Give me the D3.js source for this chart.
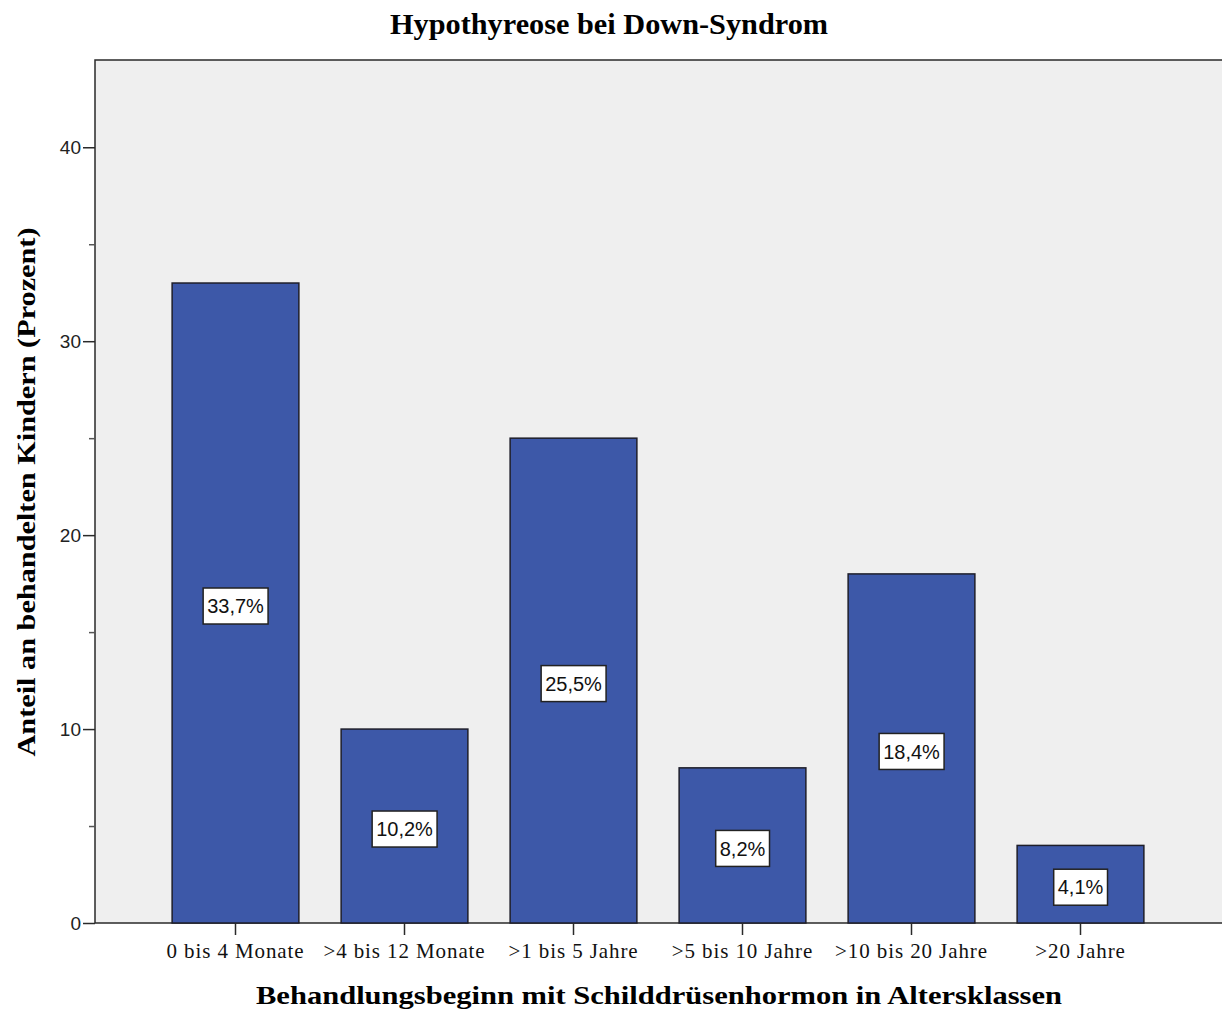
<!DOCTYPE html>
<html><head><meta charset="utf-8">
<script src="https://cdn.jsdelivr.net/npm/d3@7"></script>
<style>body{margin:0;background:#fff}svg{display:block}</style>
</head><body>
<svg id="chart" width="1222" height="1009"></svg>
<script>
const categories = ["0 bis 4 Monate", ">4 bis 12 Monate", ">1 bis 5 Jahre", ">5 bis 10 Jahre", ">10 bis 20 Jahre", ">20 Jahre"];
const barValues = [33, 10, 25, 8, 18, 4];
const percentLabels = ["33,7%", "10,2%", "25,5%", "8,2%", "18,4%", "4,1%"];
const yTicks = [0, 10, 20, 30, 40];
const yMinorTicks = [5, 15, 25, 35];
const title = "Hypothyreose bei Down-Syndrom";
const xTitle = "Behandlungsbeginn mit Schilddrüsenhormon in Altersklassen";
const yTitle = "Anteil an behandelten Kindern (Prozent)";

const svg = d3.select("#chart");
const plot = {left: 95, top: 60, right: 1223, bottom: 923};
const x = d3.scaleBand().domain(categories).range([151, 1165]).paddingInner(0.25).paddingOuter(0.125);
const y = d3.scaleLinear().domain([0, 44.5]).range([plot.bottom, plot.top]);

svg.append("rect").attr("x", plot.left).attr("y", plot.top)
  .attr("width", plot.right - plot.left).attr("height", plot.bottom - plot.top)
  .attr("fill", "#efefef").attr("stroke", "#2a2a2a").attr("stroke-width", 1.5);

// bars
svg.append("g").selectAll("rect").data(categories).join("rect")
  .attr("x", d => x(d)).attr("width", x.bandwidth())
  .attr("y", (d, i) => y(barValues[i])).attr("height", (d, i) => y(0) - y(barValues[i]))
  .attr("fill", "#3d58a8").attr("stroke", "#1e1e2a").attr("stroke-width", 1.5);

// labels
const lab = svg.append("g").selectAll("g").data(categories).join("g")
  .attr("transform", (d, i) => `translate(${x(d) + x.bandwidth() / 2},${(y(barValues[i]) + y(0)) / 2 + 3})`);
lab.each(function(d, i) {
  const g = d3.select(this);
  const t = g.append("text").text(percentLabels[i])
    .attr("text-anchor", "middle").attr("dy", "0.36em")
    .attr("font-family", "Liberation Sans, Arial, sans-serif").attr("font-size", 20).attr("fill", "#111");
  const bb = t.node().getBBox();
  g.insert("rect", "text").attr("x", bb.x - 4).attr("y", -18).attr("width", bb.width + 8).attr("height", 36)
    .attr("fill", "#fff").attr("stroke", "#222").attr("stroke-width", 1.5);
});

// y axis
const yAxis = d3.axisLeft(y).tickValues(yTicks).tickSize(12).tickPadding(2).tickFormat(d3.format("d"));
const gy = svg.append("g").attr("transform", `translate(${plot.left},0)`).call(yAxis);
gy.select(".domain").remove();
gy.selectAll("line").attr("stroke", "#2a2a2a").attr("stroke-width", 1.5);
gy.selectAll("text").attr("font-family", "Liberation Sans, Arial, sans-serif").attr("font-size", 19).attr("fill", "#222");
const gyMinor = svg.append("g").attr("transform", `translate(${plot.left},0)`)
  .call(d3.axisLeft(y).tickValues(yMinorTicks).tickSize(6).tickFormat(""));
gyMinor.select(".domain").remove();
gyMinor.selectAll("line").attr("stroke", "#555").attr("stroke-width", 1.5);

// x axis
const xAxis = d3.axisBottom(x).tickSize(12).tickPadding(8);
const gx = svg.append("g").attr("transform", `translate(0,${plot.bottom})`).call(xAxis);
gx.select(".domain").remove();
gx.selectAll("line").attr("stroke", "#2a2a2a").attr("stroke-width", 1.5);
gx.selectAll("text").attr("font-family", "Liberation Serif, Times New Roman, serif").attr("font-size", 21)
  .attr("letter-spacing", "0.9px").attr("fill", "#111");

// titles
svg.append("text").text(title).attr("x", 609).attr("y", 34).attr("text-anchor", "middle")
  .attr("font-family", "Liberation Serif, Times New Roman, serif").attr("font-weight", "bold").attr("font-size", 29)
  .attr("textLength", 438).attr("lengthAdjust", "spacingAndGlyphs");
svg.append("text").text(xTitle).attr("x", 659).attr("y", 1004).attr("text-anchor", "middle")
  .attr("font-family", "Liberation Serif, Times New Roman, serif").attr("font-weight", "bold").attr("font-size", 26)
  .attr("textLength", 806).attr("lengthAdjust", "spacingAndGlyphs");
svg.append("text").text(yTitle).attr("transform", "translate(35,492) rotate(-90)").attr("text-anchor", "middle")
  .attr("font-family", "Liberation Serif, Times New Roman, serif").attr("font-weight", "bold").attr("font-size", 26)
  .attr("textLength", 529).attr("lengthAdjust", "spacingAndGlyphs");
</script>
</body></html>
